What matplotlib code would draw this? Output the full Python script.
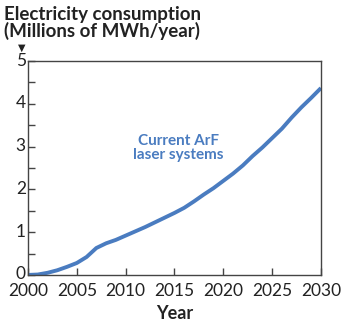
import matplotlib
matplotlib.use("Agg")
from matplotlib import pyplot as plt
from matplotlib.ticker import MultipleLocator
from matplotlib.transforms import ScaledTranslation

years = [2000, 2001, 2002, 2003, 2004, 2005, 2006, 2007, 2008, 2009, 2010,
         2011, 2012, 2013, 2014, 2015, 2016, 2017, 2018, 2019, 2020,
         2021, 2022, 2023, 2024, 2025, 2026, 2027, 2028, 2029, 2030]
consumption = [0.0, 0.01, 0.05, 0.11, 0.19, 0.28, 0.42, 0.63, 0.74, 0.82, 0.92,
               1.02, 1.12, 1.23, 1.34, 1.45, 1.57, 1.72, 1.88, 2.03, 2.20,
               2.37, 2.56, 2.78, 2.98, 3.20, 3.42, 3.68, 3.92, 4.14, 4.37]
x_ticks = [2000, 2005, 2010, 2015, 2020, 2025, 2030]
y_ticks = [0, 1, 2, 3, 4, 5]

blue = "#4a7cc0"
dark = "#222222"
plt.rcParams["font.family"] = ["Lato", "DejaVu Sans"]

fig = plt.figure(figsize=(3.5, 3.25), dpi=100)
ax = fig.add_axes([0.08, 0.154, 0.837, 0.658])
ax.plot(years, consumption, color=blue, lw=2.8, solid_capstyle="butt")

ax.set_xlim(2000, 2030)
ax.set_ylim(0, 5)
ax.set_xticks(x_ticks)
ax.set_yticks(y_ticks)
ax.yaxis.set_minor_locator(MultipleLocator(0.5))
ax.tick_params(axis="both", which="both", direction="in", length=5, width=1,
               color="#444444", labelsize=12.5, labelcolor=dark)
ax.tick_params(axis="y", pad=1.5)
ax.tick_params(axis="x", pad=6)
# y labels sit a touch above their ticks
shift = ScaledTranslation(0, 2 / 100, fig.dpi_scale_trans)
for lab in ax.get_yticklabels():
    lab.set_transform(lab.get_transform() + shift)
for s in ax.spines.values():
    s.set_color("#444444")
    s.set_linewidth(1)

ax.set_xlabel("Year", fontsize=13, fontweight="bold", color=dark, labelpad=4)

fig.text(0.012, 0.982, "Electricity consumption\n(Millions of MWh/year)",
         ha="left", va="top", fontsize=13.5, fontweight="bold", color=dark,
         linespacing=0.95)
fig.text(0.063, 0.852, "\u25bc", ha="center", va="center", fontsize=7,
         color=dark, family=["DejaVu Sans"])

ax.text(2015.4, 2.97, "Current ArF\nlaser systems", ha="center", va="center",
        fontsize=11, fontweight="bold", color=blue, linespacing=1.05)

fig.savefig("out.png", dpi=100)
